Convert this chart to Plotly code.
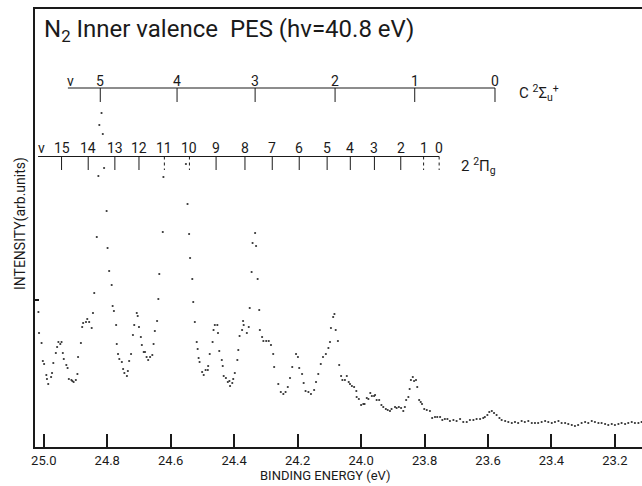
import plotly.graph_objects as go

# ---- spectrum (binding energy in eV, intensity in arb. units) ----
energy = [25.017,25.015,25.007,25.003,24.999,24.992,24.990,24.986,24.977,24.974,24.970,24.962,24.958,24.954,24.948,24.944,24.940,24.937,24.929,24.925,
24.921,24.913,24.910,24.906,24.899,24.894,24.892,24.883,24.879,24.876,24.867,24.863,24.857,24.849,24.845,24.841,24.833,24.828,24.825,24.818,
24.814,24.810,24.802,24.799,24.794,24.786,24.783,24.779,24.772,24.770,24.766,24.762,24.754,24.750,24.746,24.738,24.735,24.731,24.725,24.719,
24.715,24.707,24.704,24.700,24.694,24.691,24.685,24.681,24.676,24.671,24.665,24.658,24.654,24.650,24.643,24.639,24.636,24.625,24.623,24.552,
24.547,24.542,24.539,24.532,24.529,24.524,24.518,24.515,24.512,24.509,24.501,24.496,24.490,24.483,24.482,24.477,24.468,24.465,24.461,24.453,
24.451,24.447,24.439,24.436,24.433,24.426,24.420,24.415,24.413,24.406,24.403,24.398,24.390,24.387,24.383,24.375,24.372,24.370,24.360,24.354,
24.351,24.345,24.342,24.334,24.331,24.326,24.321,24.319,24.312,24.308,24.299,24.291,24.284,24.277,24.274,24.261,24.253,24.245,24.238,24.231,
24.224,24.217,24.205,24.199,24.195,24.186,24.181,24.175,24.166,24.158,24.148,24.142,24.135,24.127,24.120,24.111,24.103,24.098,24.095,24.088,
24.084,24.080,24.073,24.069,24.063,24.059,24.051,24.045,24.039,24.035,24.029,24.022,24.015,24.014,24.007,24.000,23.993,23.989,23.982,23.977,
23.971,23.966,23.959,23.956,23.951,23.943,23.936,23.930,23.922,23.916,23.909,23.904,23.893,23.888,23.881,23.874,23.867,23.862,23.858,23.851,
23.847,23.843,23.837,23.833,23.827,23.823,23.817,23.812,23.808,23.801,23.793,23.783,23.776,23.767,23.760,23.751,23.744,23.736,23.728,23.720,
23.709,23.699,23.688,23.678,23.667,23.657,23.646,23.636,23.625,23.615,23.610,23.602,23.596,23.588,23.581,23.573,23.564,23.557,23.546,23.536,
23.525,23.515,23.505,23.494,23.484,23.473,23.462,23.452,23.442,23.431,23.420,23.410,23.399,23.389,23.378,23.368,23.357,23.347,23.336,23.326,
23.316,23.305,23.294,23.284,23.273,23.263,23.252,23.242,23.231,23.221,23.210,23.200,23.189,23.179,23.168,23.158,23.147,23.137,23.126,23.116]

intensity = [135,114,104,86,83,72,68,63,70,74,84,94,100,105,103,105,94,88,82,79,
68,67,66,65,67,73,90,104,120,124,125,128,125,119,134,154,210,271,322,334,
313,279,236,199,176,162,141,136,122,103,93,88,85,78,74,71,76,86,93,112,
122,134,131,120,110,102,95,95,90,87,90,92,103,116,126,148,173,215,270,283,
243,213,189,168,145,125,105,98,89,85,75,72,77,77,81,93,105,117,122,122,
114,96,87,81,71,69,65,66,61,64,68,74,87,97,111,117,126,122,114,120,
139,175,204,214,201,168,137,117,110,106,106,106,102,93,80,63,55,53,55,60,
69,80,93,90,79,73,64,56,55,53,57,65,73,83,90,93,99,105,119,130,
133,117,106,82,71,67,67,71,65,63,61,60,56,50,48,42,43,43,49,48,
54,51,51,52,47,47,42,40,38,37,36,38,40,39,40,39,36,40,47,50,
58,67,70,66,67,60,47,45,43,38,37,36,29,30,30,30,27,28,28,26,
27,26,28,25,25,27,27,28,28,29,30,32,35,36,34,32,29,27,26,25,
24,25,24,26,25,26,24,24,24,25,26,25,24,25,26,24,24,23,22,21,
22,24,25,24,26,25,24,24,23,22,23,22,23,24,23,24,25,24,24,25]

# ---- vibrational progressions (energies in eV) ----
c_state_v = ["5", "4", "3", "2", "1", "0"]
c_state_e = [24.822, 24.580, 24.334, 24.082, 23.831, 23.578]
pi_state_v = ["15", "14", "13", "12", "11", "10", "9", "8", "7", "6", "5", "4", "3", "2", "1", "0"]
pi_state_e = [24.944, 24.860, 24.776, 24.700, 24.620, 24.541, 24.457, 24.366, 24.280, 24.195,
              24.107, 24.034, 23.958, 23.875, 23.803, 23.754]
pi_state_dashed = ["11", "10", "1", "0"]

x_tick_vals = [25.0, 24.8, 24.6, 24.4, 24.2, 24.0, 23.8, 23.6, 23.4, 23.2]
x_tick_text = ["25.0", "24.8", "24.6", "24.4", "24.2", "24.0", "23.8", "23.6", "23.4", "23.2"]

INK = "#1a1a1a"
FONT = "Roboto"

fig = go.Figure()
fig.add_trace(go.Scatter(x=energy, y=intensity, mode="markers",
                         marker=dict(size=2.2, color="#333333"), hoverinfo="skip",
                         showlegend=False))

shapes = []
annotations = []

# C 2Sigma_u+ ladder
c_line_y, c_tick_y, c_lab_y = 359, 345, 366
shapes.append(dict(type="line", xref="x", yref="y", x0=24.924, x1=c_state_e[-1],
                   y0=c_line_y, y1=c_line_y, line=dict(color=INK, width=1)))
annotations.append(dict(xref="x", yref="y", x=24.917, y=c_lab_y, text="v", showarrow=False,
                        font=dict(family=FONT, size=14, color=INK)))
for v, e in zip(c_state_v, c_state_e):
    shapes.append(dict(type="line", xref="x", yref="y", x0=e, x1=e, y0=c_line_y, y1=c_tick_y,
                       line=dict(color=INK, width=1)))
    annotations.append(dict(xref="x", yref="y", x=e, y=c_lab_y, text=v, showarrow=False,
                            font=dict(family=FONT, size=14, color=INK)))
annotations.append(dict(xref="x", yref="y", x=23.510, y=354, xanchor="left",
                        text="C <sup>2</sup>Σ<sub>u</sub><sup>+</sup>", showarrow=False,
                        font=dict(family=FONT, size=15, color=INK)))

# 2 2Pi_g ladder
p_line_y, p_tick_y, p_lab_y = 290.5, 277, 299
shapes.append(dict(type="line", xref="x", yref="y", x0=25.018, x1=pi_state_e[-1],
                   y0=p_line_y, y1=p_line_y, line=dict(color=INK, width=1)))
annotations.append(dict(xref="x", yref="y", x=25.006, y=p_lab_y, text="v", showarrow=False,
                        font=dict(family=FONT, size=14, color=INK)))
for v, e in zip(pi_state_v, pi_state_e):
    dash = "dot" if v in pi_state_dashed else "solid"
    shapes.append(dict(type="line", xref="x", yref="y", x0=e, x1=e, y0=p_line_y, y1=p_tick_y,
                       line=dict(color=INK, width=1, dash=dash)))
    annotations.append(dict(xref="x", yref="y", x=e, y=p_lab_y, text=v, showarrow=False,
                            font=dict(family=FONT, size=14, color=INK)))
annotations.append(dict(xref="x", yref="y", x=23.690, y=281, xanchor="left",
                        text="2 <sup>2</sup>Π<sub>g</sub>", showarrow=False,
                        font=dict(family=FONT, size=15, color=INK)))

# title and axis titles
annotations.append(dict(xref="paper", yref="paper", x=0.0115, y=0.95, xanchor="left",
                        yanchor="middle", showarrow=False,
                        text="N<sub>2</sub> Inner valence\u00a0 PES (hν=40.8 eV)",
                        font=dict(family=FONT, size=24, color=INK)))
annotations.append(dict(xref="paper", yref="paper", x=0.478, y=-0.066, showarrow=False,
                        text="BINDING ENERGY (eV)", yanchor="middle",
                        font=dict(family=FONT, size=13, color=INK)))
annotations.append(dict(xref="paper", yref="paper", x=-0.042, y=0.509, showarrow=False,
                        text="INTENSITY(arb.units)", textangle=-90,
                        font=dict(family=FONT, size=14, color=INK)))

fig.update_layout(
    width=642, height=486,
    margin=dict(l=35, r=0, t=9, b=39),
    paper_bgcolor="white", plot_bgcolor="white",
    shapes=shapes, annotations=annotations,
    xaxis=dict(range=[25.0277, 23.1147], tickvals=x_tick_vals, ticktext=x_tick_text,
               ticks="inside", ticklen=13, tickwidth=1.5, tickcolor=INK,
               showline=True, linewidth=2, linecolor=INK, mirror=True,
               showgrid=False, zeroline=False,
               tickfont=dict(family=FONT, size=13, color=INK)),
    yaxis=dict(range=[0, 438], tickvals=[147], ticks="inside", ticklen=4, tickwidth=1.5,
               tickcolor=INK, showticklabels=False, showline=True, linewidth=2,
               linecolor=INK, showgrid=False, zeroline=False),
)

fig.write_html("out.html")
